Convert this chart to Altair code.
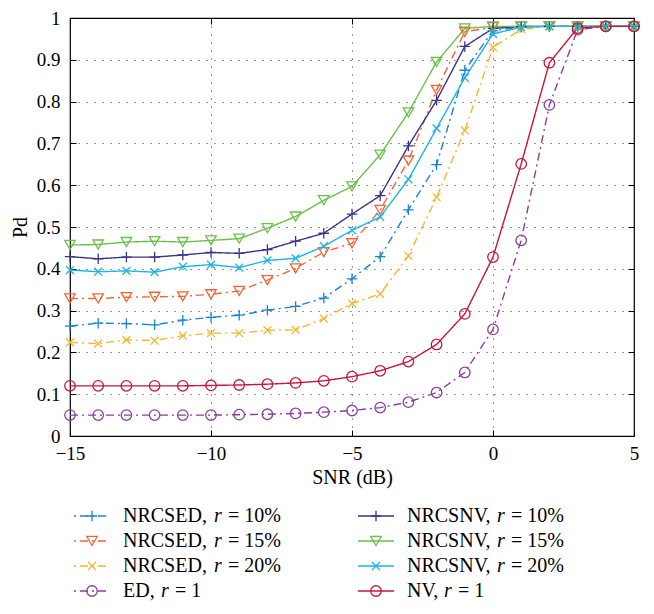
import altair as alt
import pandas as pd

# ---------------- data ----------------
snr = list(range(-15, 6))

nrcsed_10 = [0.263, 0.270, 0.269, 0.266, 0.277, 0.284, 0.289, 0.301, 0.310, 0.330, 0.376,
             0.429, 0.541, 0.649, 0.875, 0.970, 0.978, 0.980, 0.980, 0.980, 0.980]
nrcsed_15 = [0.329, 0.329, 0.332, 0.333, 0.334, 0.339, 0.347, 0.373, 0.401, 0.440, 0.461,
             0.541, 0.659, 0.828, 0.967, 0.978, 0.980, 0.980, 0.980, 0.980, 0.980]
nrcsed_20 = [0.224, 0.221, 0.230, 0.228, 0.240, 0.246, 0.246, 0.253, 0.254, 0.281, 0.317,
             0.340, 0.431, 0.571, 0.731, 0.930, 0.973, 0.980, 0.980, 0.980, 0.980]
ed_1 = [0.050, 0.050, 0.050, 0.050, 0.050, 0.050, 0.051, 0.052, 0.054, 0.057, 0.061,
        0.068, 0.081, 0.104, 0.152, 0.255, 0.468, 0.792, 0.972, 0.980, 0.980]
nrcsnv_10 = [0.429, 0.424, 0.428, 0.428, 0.433, 0.439, 0.437, 0.446, 0.466, 0.485, 0.531,
             0.575, 0.694, 0.803, 0.932, 0.975, 0.980, 0.980, 0.980, 0.980, 0.980]
nrcsnv_15 = [0.457, 0.458, 0.464, 0.466, 0.464, 0.468, 0.472, 0.497, 0.525, 0.564, 0.597,
             0.673, 0.774, 0.895, 0.975, 0.980, 0.980, 0.980, 0.980, 0.980, 0.980]
nrcsnv_20 = [0.397, 0.393, 0.395, 0.392, 0.405, 0.410, 0.403, 0.420, 0.425, 0.454, 0.492,
             0.524, 0.614, 0.736, 0.857, 0.962, 0.978, 0.980, 0.980, 0.980, 0.980]
nv_1 = [0.120, 0.120, 0.120, 0.120, 0.120, 0.121, 0.122, 0.124, 0.127, 0.132, 0.142,
        0.156, 0.178, 0.219, 0.292, 0.428, 0.651, 0.893, 0.976, 0.980, 0.980]

series_ids = ["NRCSED10", "NRCSED15", "NRCSED20", "ED1",
              "NRCSNV10", "NRCSNV15", "NRCSNV20", "NV1"]
series_values = [nrcsed_10, nrcsed_15, nrcsed_20, ed_1,
                 nrcsnv_10, nrcsnv_15, nrcsnv_20, nv_1]

legend_prefix = ["NRCSED,", "NRCSED,", "NRCSED,", "ED,",
                 "NRCSNV,", "NRCSNV,", "NRCSNV,", "NV,"]
legend_rest = ["= 10%", "= 15%", "= 20%", "= 1",
               "= 10%", "= 15%", "= 20%", "= 1"]
legend_col = [0, 0, 0, 0, 1, 1, 1, 1]
legend_row = [0, 1, 2, 3, 0, 1, 2, 3]

x_ticks = [-15, -10, -5, 0, 5]
y_ticks = [0, 0.1, 0.2, 0.3, 0.4, 0.5, 0.6, 0.7, 0.8, 0.9, 1]

# ---------------- styles ----------------
colors = ["#1c84d4", "#f2643a", "#f6b532", "#8a3fa0",
          "#3a3490", "#6cc04a", "#1db4e6", "#c8163a"]
DASHDOT = [8, 4, 2, 4]
SOLID = [1, 0]
dashes = [DASHDOT, DASHDOT, DASHDOT, DASHDOT, SOLID, SOLID, SOLID, SOLID]
PLUS = "M-1,0H1M0,-1V1"
XMARK = "M-0.75,-0.75L0.75,0.75M-0.75,0.75L0.75,-0.75"
shapes = [PLUS, "triangle-down", XMARK, "circle",
          PLUS, "triangle-down", XMARK, "circle"]
sizes = [110, 110, 80, 90, 110, 110, 80, 90]

FONT = "'Times New Roman', 'Liberation Serif', Times, 'DejaVu Serif', 'Noto Serif', serif"
TEXT_SIZE = 20
# left offset (px) of the italic r, per label prefix
r_dx = {"NRCSED,": 91, "NRCSNV,": 90, "ED,": 38, "NV,": 37}
REST_GAP = 14
TEXT_DX = 53
COL_STEP = 284

# ---------------- tables ----------------
rows = []
for sid, vals in zip(series_ids, series_values):
    for s, v in zip(snr, vals):
        rows.append({"snr": s, "pd": v, "series": sid})
df = pd.DataFrame(rows)

leg = pd.DataFrame({
    "series": series_ids,
    "prefix": legend_prefix,
    "rest": legend_rest,
    "col": legend_col,
    "row": legend_row,
})

color_scale = alt.Scale(domain=series_ids, range=colors)
dash_scale = alt.Scale(domain=series_ids, range=dashes)
shape_scale = alt.Scale(domain=series_ids, range=shapes)
size_scale = alt.Scale(domain=series_ids, range=sizes)

xs = alt.Scale(domain=[-15, 5], nice=False, zero=False)
ys = alt.Scale(domain=[0, 1], nice=False, zero=False)

lines = alt.Chart(df).mark_line(strokeWidth=1.4).encode(
    x=alt.X("snr:Q", scale=xs, axis=alt.Axis(
        orient="bottom", values=x_ticks, title="SNR (dB)", grid=True, offset=-6,
        tickSize=6, labelPadding=8, titlePadding=4, domain=False, labelFlush=False)),
    y=alt.Y("pd:Q", scale=ys, axis=alt.Axis(
        orient="left", values=y_ticks, format="~g", title="Pd", grid=True, offset=-6,
        tickSize=6, labelPadding=10, titlePadding=6, domain=False, labelFlush=False)),
    color=alt.Color("series:N", scale=color_scale, legend=None),
    strokeDash=alt.StrokeDash("series:N", scale=dash_scale, legend=None),
)

points = alt.Chart(df).mark_point(filled=False, strokeWidth=1.3, opacity=1).encode(
    x=alt.X("snr:Q", scale=xs, axis=alt.Axis(
        orient="top", values=x_ticks, labels=False, title=None, grid=False,
        offset=-6, tickSize=6, domain=False)),
    y=alt.Y("pd:Q", scale=ys, axis=alt.Axis(
        orient="right", values=y_ticks, labels=False, title=None, grid=False,
        offset=-6, tickSize=6, domain=False)),
    color=alt.Color("series:N", scale=color_scale, legend=None),
    shape=alt.Shape("series:N", scale=shape_scale, legend=None),
    size=alt.Size("series:N", scale=size_scale, legend=None),
)

# ---------------- legend (drawn below the plot) ----------------
leg_x = alt.X("col:Q", scale=alt.Scale(domain=[0, 1], range=[0, COL_STEP]), axis=None)
leg_y = alt.Y("row:Q", scale=alt.Scale(domain=[0, 3], range=[498, 573]), axis=None)

leg_base = alt.Chart(leg)
leg_lines = leg_base.mark_rule(xOffset=4, x2Offset=40, strokeWidth=1.4,
                               strokeDashOffset=12).encode(
    x=leg_x, x2="col:Q", y=leg_y,
    color=alt.Color("series:N", scale=color_scale, legend=None),
    strokeDash=alt.StrokeDash("series:N", scale=dash_scale, legend=None),
)
leg_marks = leg_base.mark_point(xOffset=22, filled=False, strokeWidth=1.3, opacity=1).encode(
    x=leg_x, y=leg_y,
    color=alt.Color("series:N", scale=color_scale, legend=None),
    shape=alt.Shape("series:N", scale=shape_scale, legend=None),
    size=alt.Size("series:N", scale=size_scale, legend=None),
)
leg_prefix = leg_base.mark_text(align="left", baseline="middle", dx=TEXT_DX,
                                font=FONT, fontSize=TEXT_SIZE, color="black").encode(
    x=leg_x, y=leg_y, text="prefix:N")

leg_layers = [leg_lines, leg_marks, leg_prefix]
for p, off in r_dx.items():
    sub = leg_base.transform_filter(alt.datum.prefix == p)
    leg_layers.append(sub.mark_text(align="left", baseline="middle", dx=TEXT_DX + off,
                                    font=FONT, fontSize=TEXT_SIZE, fontStyle="italic",
                                    color="black").encode(x=leg_x, y=leg_y, text=alt.value("r")))
    leg_layers.append(sub.mark_text(align="left", baseline="middle",
                                    dx=TEXT_DX + off + REST_GAP,
                                    font=FONT, fontSize=TEXT_SIZE, color="black").encode(
        x=leg_x, y=leg_y, text="rest:N"))

chart = alt.layer(lines, points, *leg_layers).resolve_scale(
    x="independent", y="independent"
).properties(
    width=564, height=418,
    padding={"left": 62, "top": 10, "right": 12, "bottom": 168},
    autosize=alt.AutoSizeParams(type="none"),
).configure_view(
    stroke="black", strokeWidth=1.2
).configure_axis(
    labelFont=FONT, labelFontSize=19, labelColor="black",
    titleFont=FONT, titleFontSize=20, titleFontWeight="normal", titleColor="black",
    tickColor="black", tickWidth=1, gridColor="black", gridDash=[1, 7],
    gridOpacity=0.8, gridWidth=1,
)

chart.save("out.html", embed_options={"renderer": "svg", "actions": False})
